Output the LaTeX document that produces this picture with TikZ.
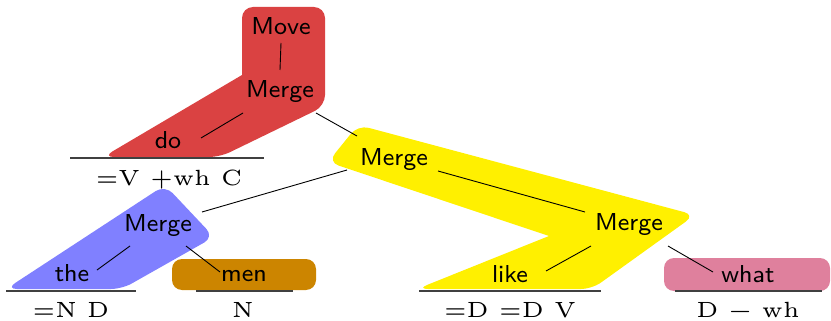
\documentclass[tikz,border=0pt]{standalone}
\usepackage{fontspec}
\newfontfamily\featfont{lmroman5-regular.otf}
\newfontfamily\wordfont{lmsans8-regular.otf}
\definecolor{hullred}{RGB}{218,66,66}
\definecolor{hullyellow}{RGB}{255,240,0}
\definecolor{hullblue}{RGB}{128,128,255}
\definecolor{hullorange}{RGB}{204,133,0}
\definecolor{hullpink}{RGB}{223,128,157}
\begin{document}
\begin{tikzpicture}[x=1pt,y=-1pt,
  word/.style={font=\fontsize{24.5}{30}\selectfont\wordfont, inner sep=0pt, anchor=base},
  feat/.style={font=\fontsize{22}{26}\selectfont\featfont, inner sep=0pt, anchor=base},
  branch/.style={line width=0.9pt},
  leafrule/.style={line width=1.1pt, draw=black!75},
  hull/.style={rounded corners=11pt}]
\useasboundingbox (0,0) rectangle (831,321);

% coloured regions behind the subtrees (inner bends kept sharp)
\fill[hullred, hull] (242,7) -- (325,7) -- (325,106) -- (220,157) -- (103,157)
  [sharp corners] -- (242,75) [hull] -- cycle;
\fill[hullyellow, hull] (358,125) -- (695,215) -- (592,289) -- (417,289)
  [sharp corners] -- (549,236) [hull] -- (328,162) -- cycle;
\fill[hullblue, hull] (165,185) -- (214,237) -- (122,289) -- (6,289) -- cycle;
\fill[hullorange, rounded corners=10pt] (172,259) rectangle (316,290);
\fill[hullpink, rounded corners=10pt] (664,258) rectangle (830,291);

% tree nodes
\node[word] (move) at (281,35) {Move};
\node[word] (m1)   at (280,98) {Merge};
\node[word] (do)   at (168,148) {do};
\node[word] (m2)   at (394,165) {Merge};
\node[word] (m3)   at (158,231) {Merge};
\node[word] (the)  at (72,281) {the};
\node[word] (men)  at (244,281) {men};
\node[word] (m4)   at (629,230) {Merge};
\node[word] (like) at (510,282) {like};
\node[word] (what) at (748,282) {what};

% feature strings under the leaves
\node[feat] (fdo)   at (169,185) {=V +wh C};
\node[feat] (fthe)  at (71,317) {=N D};
\node[feat] (fmen)  at (243,317) {N};
\node[feat] (flike) at (510,317) {=D =D V};
\node[feat] (fwhat) at (748,317) {D − wh};

% rules separating leaves from their features
\draw[leafrule] (70,158) -- (264,158);
\draw[leafrule] (6,291) -- (136,291);
\draw[leafrule] (196,291) -- (293,291);
\draw[leafrule] (419,291) -- (601,291);
\draw[leafrule] (675,291) -- (822,291);

% branches
\draw[branch] ([shift={(0,8)}]move.base) -- ([shift={(0,-28)}]m1.base);
\draw[branch] ([shift={(-37,15)}]m1.base) -- ([shift={(33,-10)}]do.base);
\draw[branch] ([shift={(36,15)}]m1.base) -- ([shift={(-37,-29)}]m2.base);
\draw[branch] ([shift={(-47,5)}]m2.base) -- ([shift={(44,-19)}]m3.base);
\draw[branch] ([shift={(44,6)}]m2.base) -- ([shift={(-44,-18)}]m4.base);
\draw[branch] ([shift={(-28,15)}]m3.base) -- ([shift={(25,-11)}]the.base);
\draw[branch] ([shift={(28,15)}]m3.base) -- ([shift={(-24,-9)}]men.base);
\draw[branch] ([shift={(-38,16)}]m4.base) -- ([shift={(36,-11)}]like.base);
\draw[branch] ([shift={(39,16)}]m4.base) -- ([shift={(-35,-10)}]what.base);
\end{tikzpicture}
\end{document}
